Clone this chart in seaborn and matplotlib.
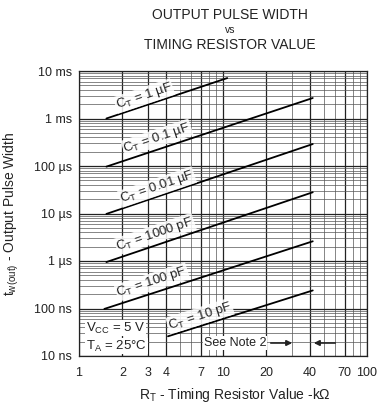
import numpy as np
import pandas as pd
import matplotlib
matplotlib.use("Agg")
import matplotlib.pyplot as plt
import seaborn as sns

# ---- data ----
ct_labels = ["1 µF", "0.1 µF", "0.01 µF", "1000 pF", "100 pF", "10 pF"]
r_start = [1.55, 1.55, 1.55, 1.55, 1.5, 4.15]        # kOhm
r_end = [10.7, 42.0, 42.0, 42.0, 42.0, 42.0]          # kOhm
tw_start = [1.0e-3, 97e-6, 9.8e-6, 0.95e-6, 98e-9, 26e-9]   # s
tw_end = [7.1e-3, 2.7e-3, 290e-6, 28e-6, 2.6e-6, 240e-9]    # s

x_ticks = [1, 2, 3, 4, 7, 10, 20, 40, 70, 100]
y_ticks = [1e-8, 1e-7, 1e-6, 1e-5, 1e-4, 1e-3, 1e-2]
y_tick_labels = ["10 ns", "100 ns", "1 µs", "10 µs", "100 µs", "1 ms", "10 ms"]

rows = []
for lab, r0, r1, t0, t1 in zip(ct_labels, r_start, r_end, tw_start, tw_end):
    rows.append({"ct": lab, "r": r0, "tw": t0})
    rows.append({"ct": lab, "r": r1, "tw": t1})
df = pd.DataFrame(rows)

sns.set_theme(style="white")
plt.rcParams["font.family"] = ["Liberation Sans", "DejaVu Sans"]
plt.rcParams["mathtext.fontset"] = "custom"
plt.rcParams["mathtext.rm"] = "Liberation Sans"
plt.rcParams["mathtext.it"] = "Liberation Sans"

fig = plt.figure(figsize=(3.8, 4.04), dpi=100)
ax = fig.add_axes([79 / 380, 1 - 356 / 404, (367 - 79) / 380, (356 - 71) / 404])
ax.set_xscale("log")
ax.set_yscale("log")
ax.set_xlim(1, 100)
ax.set_ylim(1e-8, 1e-2)

# grid
ax.grid(True, which="major", color="#222222", lw=0.9)
ax.grid(True, which="minor", color="#555555", lw=0.5)
ax.set_axisbelow(True)

sns.lineplot(data=df, x="r", y="tw", hue="ct", palette=["black"] * len(ct_labels),
             legend=False, ax=ax, lw=1.3, zorder=3)

ax.set_xticks(x_ticks)
ax.set_xticklabels([str(v) for v in x_ticks])
ax.xaxis.set_minor_formatter(matplotlib.ticker.NullFormatter())
ax.set_yticks(y_ticks)
ax.set_yticklabels(y_tick_labels)
ax.tick_params(axis="both", which="both", length=0, labelsize=9, pad=5, colors="#222222")
ax.tick_params(axis="x", pad=8)
for s in ax.spines.values():
    s.set_color("#222222")
    s.set_linewidth(0.9)

ax.set_ylabel(r"t$_\mathregular{w(out)}$ - Output Pulse Width", fontsize=10, color="#222222")
ax.yaxis.set_label_coords(-0.2, 0.5)
ax.set_xlabel(r"R$_\mathregular{T}$ - Timing Resistor Value -kΩ", fontsize=10, color="#222222")
ax.xaxis.set_label_coords(0.54, -0.105)

fig.text(230 / 380, 1 - 15 / 404, "OUTPUT PULSE WIDTH", ha="center", va="center", fontsize=10, color="#222222")
fig.text(230 / 380, 1 - 30 / 404, "vs", ha="center", va="center", fontsize=7.5, color="#222222")
fig.text(230 / 380, 1 - 45 / 404, "TIMING RESISTOR VALUE", ha="center", va="center", fontsize=10, color="#222222")

# curve labels (position in figure pixels, rotated along line)
label_pos = [(144, 96), (157, 138), (157, 187), (155, 234), (152, 282), (200, 316)]
for lab, r0, r1, t0, t1, (px, py) in zip(ct_labels, r_start, r_end, tw_start, tw_end, label_pos):
    p0 = ax.transData.transform((r0, t0))
    p1 = ax.transData.transform((r1, t1))
    ang = np.degrees(np.arctan2(p1[1] - p0[1], p1[0] - p0[0]))
    ax.text(px / 380, 1 - py / 404, r"C$_\mathregular{T}$ = " + lab, transform=fig.transFigure,
            rotation=ang, rotation_mode="anchor", ha="center", va="center",
            fontsize=9.5, color="#222222", zorder=4,
            bbox=dict(facecolor="white", edgecolor="none", pad=0.5, alpha=0.85))

ax.text(86 / 380, 1 - 328 / 404, r"V$_\mathregular{CC}$ = 5 V", transform=fig.transFigure,
        ha="left", va="center", fontsize=9.5, color="#222222", zorder=4,
        bbox=dict(facecolor="white", edgecolor="none", pad=0.5))
ax.text(86 / 380, 1 - 346 / 404, r"T$_\mathregular{A}$ = 25°C", transform=fig.transFigure,
        ha="left", va="center", fontsize=9.5, color="#222222", zorder=4,
        bbox=dict(facecolor="white", edgecolor="none", pad=0.5))

ax.text(235 / 380, 1 - 343 / 404, "See Note 2", transform=fig.transFigure,
        ha="center", va="center", fontsize=9, color="#222222", zorder=4,
        bbox=dict(facecolor="white", edgecolor="none", pad=0.5))
ax.annotate("", xy=(295 / 380, 1 - 343 / 404), xytext=(268 / 380, 1 - 343 / 404),
            xycoords="figure fraction", textcoords="figure fraction",
            arrowprops=dict(arrowstyle="-|>", color="#222222", lw=1.2, mutation_scale=8), zorder=4)
ax.annotate("", xy=(311 / 380, 1 - 343 / 404), xytext=(338 / 380, 1 - 343 / 404),
            xycoords="figure fraction", textcoords="figure fraction",
            arrowprops=dict(arrowstyle="-|>", color="#222222", lw=1.2, mutation_scale=8), zorder=4)

fig.savefig("out.png", dpi=100)
